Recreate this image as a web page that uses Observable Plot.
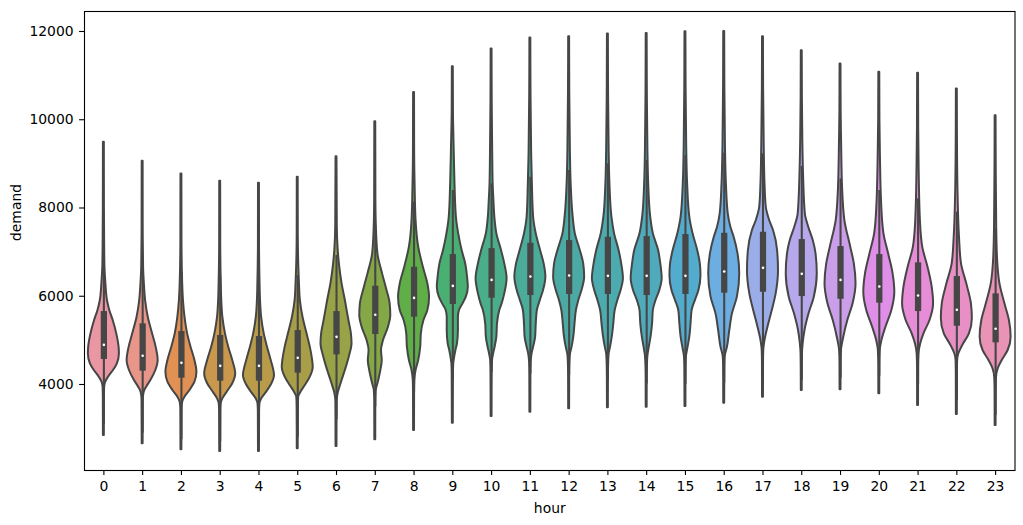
<!DOCTYPE html>
<html>
<head>
<meta charset="utf-8">
<script src="https://cdn.jsdelivr.net/npm/d3@7"></script>
<script src="https://cdn.jsdelivr.net/npm/@observablehq/plot@0.6"></script>
<style>
  html, body { margin: 0; padding: 0; background: #fff; }
  #chart { width: 1023px; height: 525px; }
</style>
</head>
<body>
<div id="chart"></div>
<script>
// ---- data ----
const hours = [0,1,2,3,4,5,6,7,8,9,10,11,12,13,14,15,16,17,18,19,20,21,22,23];
const q1     = [4566,4302,4143,4075,4075,4257,4672,5133,5525,5812,5955,6016,6039,6039,6016,6039,6069,6091,5993,5932,5842,5653,5321,4944];
const median = [4899,4650,4491,4423,4423,4604,5080,5579,5963,6235,6371,6446,6469,6462,6462,6462,6560,6643,6507,6371,6220,6016,5692,5262];
const q3     = [5653,5375,5200,5110,5087,5223,5653,6227,6657,6944,7080,7201,7262,7336,7352,7398,7427,7450,7284,7126,6944,6756,6446,6054];
const whiskerLo = [3100,2900,2750,2700,2700,2808,3200,3492,3827,4114,4268,4238,4205,4094,4012,4000,4032,4053,4100,4141,4189,3999,3634,3300];
const whiskerHi = [7034,6735,6545,6433,6357,6470,6923,7604,8132,8396,8547,8697,8849,9000,9076,9186,9240,9227,8940,8660,8396,8208,7906,7527];
// density profile per hour: [demand, relative half-width]
const profiles = [
  [[9488,0.03],[8000,0.035],[7110,0.05],[6658,0.07],[6281,0.13],[5903,0.23],[5677,0.38],[5450,0.6],[5148,0.83],[4846,0.98],[4690,1.0],[4469,0.87],[4317,0.62],[4166,0.3],[4053,0.12],[3940,0.05],[3700,0.035],[2845,0.03]],
  [[9058,0.03],[7600,0.035],[6658,0.06],[6281,0.11],[5903,0.19],[5525,0.36],[5148,0.64],[4846,0.87],[4544,1.0],[4317,0.85],[4091,0.53],[3940,0.26],[3826,0.1],[3650,0.04],[2657,0.03]],
  [[8772,0.03],[7300,0.035],[6281,0.08],[5903,0.13],[5525,0.23],[5148,0.4],[4846,0.62],[4544,0.87],[4279,1.0],[4053,0.87],[3864,0.55],[3713,0.23],[3599,0.08],[3450,0.04],[2521,0.03]],
  [[8605,0.03],[7200,0.035],[6281,0.07],[5903,0.1],[5525,0.17],[5148,0.34],[4846,0.55],[4544,0.81],[4242,1.0],[4016,0.81],[3826,0.45],[3675,0.17],[3562,0.06],[3400,0.04],[2482,0.03]],
  [[8560,0.03],[7200,0.035],[6281,0.07],[5903,0.1],[5525,0.17],[5148,0.34],[4846,0.55],[4544,0.79],[4200,1.0],[4000,0.81],[3815,0.47],[3670,0.17],[3555,0.06],[3400,0.04],[2482,0.03]],
  [[8696,0.03],[7400,0.035],[6658,0.07],[6281,0.11],[5903,0.17],[5525,0.34],[5148,0.6],[4846,0.81],[4544,0.96],[4393,1.0],[4166,0.81],[3977,0.49],[3826,0.21],[3713,0.06],[3500,0.04],[2544,0.03]],
  [[9164,0.03],[7600,0.05],[7036,0.11],[6658,0.21],[6281,0.36],[5903,0.57],[5450,0.8],[5148,0.96],[4922,1.0],[4619,0.82],[4317,0.57],[4016,0.29],[3789,0.1],[3600,0.04],[2596,0.03]],
  [[9957,0.03],[8200,0.04],[7563,0.07],[6960,0.17],[6507,0.47],[6204,0.7],[5828,0.96],[5563,1.0],[5298,0.85],[4997,0.53],[4770,0.4],[4544,0.45],[4300,0.35],[4015,0.17],[3864,0.06],[3600,0.035],[2747,0.03]],
  [[10620,0.03],[9200,0.04],[8478,0.07],[7715,0.13],[7110,0.3],[6657,0.6],[6280,0.89],[5978,1.0],[5676,0.89],[5450,0.64],[5148,0.47],[4845,0.43],[4544,0.3],[4317,0.13],[4091,0.05],[3800,0.035],[2958,0.03]],
  [[11203,0.03],[10200,0.04],[9302,0.09],[8547,0.14],[7791,0.23],[7414,0.38],[7036,0.6],[6734,0.83],[6394,0.96],[6205,1.0],[5978,0.87],[5828,0.66],[5677,0.43],[5525,0.36],[5224,0.36],[4922,0.3],[4770,0.2],[4619,0.12],[4469,0.06],[4250,0.04],[3124,0.03]],
  [[11603,0.03],[10400,0.04],[9302,0.07],[8547,0.1],[8169,0.15],[7791,0.21],[7414,0.34],[7036,0.64],[6734,0.85],[6394,1.0],[6054,0.85],[5828,0.68],[5677,0.53],[5375,0.38],[5072,0.34],[4850,0.23],[4690,0.13],[4544,0.06],[4300,0.04],[3275,0.03]],
  [[11852,0.03],[10700,0.04],[9302,0.08],[8547,0.13],[7791,0.21],[7414,0.38],[7036,0.66],[6734,0.89],[6432,1.0],[6130,0.85],[5900,0.64],[5677,0.45],[5375,0.38],[5072,0.34],[4846,0.21],[4694,0.11],[4500,0.05],[4200,0.035],[3373,0.03]],
  [[11882,0.03],[10700,0.04],[9302,0.08],[8547,0.13],[7791,0.26],[7414,0.4],[7036,0.72],[6734,0.94],[6432,1.0],[6130,0.83],[5900,0.62],[5677,0.47],[5375,0.38],[5072,0.3],[4846,0.19],[4694,0.09],[4500,0.05],[4200,0.035],[3450,0.03]],
  [[11943,0.03],[10800,0.04],[9302,0.08],[8547,0.13],[7791,0.26],[7414,0.43],[7036,0.72],[6734,0.89],[6394,1.0],[6130,0.85],[5900,0.64],[5677,0.47],[5375,0.38],[5072,0.28],[4846,0.17],[4694,0.08],[4500,0.05],[4200,0.035],[3472,0.03]],
  [[11957,0.03],[10800,0.04],[9302,0.08],[8547,0.13],[7791,0.26],[7414,0.43],[7036,0.77],[6734,0.91],[6394,1.0],[6130,0.85],[5900,0.6],[5677,0.43],[5375,0.38],[5072,0.28],[4846,0.17],[4650,0.08],[4450,0.05],[4200,0.035],[3486,0.03]],
  [[11995,0.03],[10900,0.04],[9400,0.08],[8547,0.14],[7791,0.28],[7414,0.49],[7036,0.79],[6734,0.96],[6470,1.0],[6130,0.87],[5900,0.64],[5677,0.43],[5375,0.36],[5072,0.28],[4846,0.17],[4619,0.06],[4400,0.04],[3502,0.03]],
  [[12002,0.03],[10900,0.04],[9400,0.08],[8547,0.14],[7868,0.26],[7565,0.43],[7338,0.64],[6961,0.89],[6507,1.0],[5979,0.85],[5601,0.53],[5224,0.36],[4846,0.21],[4619,0.06],[4400,0.04],[3577,0.03]],
  [[11882,0.03],[10700,0.04],[9400,0.08],[8549,0.13],[8018,0.21],[7716,0.43],[7490,0.68],[7036,0.94],[6583,1.0],[6054,0.85],[5677,0.6],[5298,0.32],[4997,0.13],[4770,0.05],[4500,0.035],[3712,0.03]],
  [[11565,0.03],[10500,0.04],[9500,0.07],[8697,0.12],[7868,0.23],[7565,0.45],[7263,0.74],[6961,0.92],[6507,1.0],[5979,0.81],[5601,0.47],[5224,0.21],[4922,0.09],[4696,0.045],[4400,0.035],[3864,0.03]],
  [[11263,0.03],[10200,0.04],[9454,0.07],[8471,0.13],[7716,0.28],[7112,0.66],[6734,0.89],[6281,1.0],[5828,0.81],[5450,0.47],[5072,0.21],[4770,0.06],[4500,0.035],[3880,0.03]],
  [[11074,0.03],[10000,0.04],[9227,0.07],[8095,0.15],[7414,0.3],[6961,0.6],[6507,0.89],[6092,1.0],[5677,0.81],[5298,0.43],[4997,0.17],[4770,0.06],[4450,0.035],[3789,0.03]],
  [[11051,0.03],[9800,0.04],[8849,0.07],[7716,0.15],[7112,0.3],[6658,0.64],[6205,0.91],[5828,1.0],[5450,0.77],[5148,0.38],[4922,0.17],[4696,0.06],[4400,0.035],[3524,0.03]],
  [[10697,0.03],[9500,0.04],[8471,0.07],[7338,0.17],[6734,0.3],[6281,0.64],[5828,0.94],[5488,1.0],[5148,0.81],[4884,0.38],[4696,0.13],[4544,0.05],[4250,0.035],[3320,0.03]],
  [[10093,0.03],[8900,0.04],[7565,0.07],[6810,0.13],[6281,0.28],[5828,0.6],[5450,0.89],[5072,1.0],[4770,0.81],[4544,0.43],[4356,0.17],[4165,0.06],[3900,0.035],[3071,0.03]]
];
const yTicks = [4000, 6000, 8000, 10000, 12000];

// ---- seaborn-like husl palette (h=.01, s=.9, l=.7), desaturated 0.75 ----
function huslToRgb(H, S, L) {
  const m = [[3.2406,-1.5372,-0.4986],[-0.9689,1.8758,0.0415],[0.0557,-0.2040,1.0570]];
  const refU = 0.19784, refV = 0.46834, labE = 0.008856, labK = 903.3;
  const hrad = H * Math.PI / 180, sinH = Math.sin(hrad), cosH = Math.cos(hrad);
  const sub1 = Math.pow(L + 16, 3) / 1560896, sub2 = sub1 > labE ? sub1 : L / labK;
  let maxC = Infinity;
  for (const [m1, m2, m3] of m) {
    const top = (0.99915*m1 + 1.05122*m2 + 1.14460*m3) * sub2;
    const rb = 0.86330*m3 - 0.17266*m2, lb = 0.12949*m3 - 0.38848*m1;
    const bottom = (rb*sinH + lb*cosH) * sub2;
    for (const t of [0, 1]) {
      const C = L * (top - 1.05122*t) / (bottom + 0.17266*sinH*t);
      if (C > 0 && C < maxC) maxC = C;
    }
  }
  const C = maxC / 100 * S;
  const U = Math.cos(hrad) * C, V = Math.sin(hrad) * C;
  const t = (L + 16) / 116;
  const varY = t*t*t > labE ? t*t*t : (116*t - 16) / labK;
  const varU = U / (13*L) + refU, varV = V / (13*L) + refV;
  const Y = varY;
  const X = -(9*Y*varU) / ((varU - 4)*varV - varU*varV);
  const Z = (9*Y - 15*varV*Y - varV*X) / (3*varV);
  return m.map(([a,b,c]) => {
    const v = a*X + b*Y + c*Z;
    const s = v <= 0.0031308 ? 12.92*v : 1.055*Math.pow(v, 1/2.4) - 0.055;
    return Math.min(1, Math.max(0, s));
  });
}
const palette = hours.map((h, i) => {
  const hue = ((i / hours.length + 0.01) % 1) * 359;
  const [r, g, b] = huslToRgb(hue, 0.9 * 99, 0.7 * 99);
  const c = d3.hsl(d3.rgb(r*255, g*255, b*255));
  c.s *= 0.75;
  return c.formatHex();
});
const lum = d3.min(palette, c => d3.hsl(c).l) * 0.6;
const gray = d3.rgb(lum*255, lum*255, lum*255).formatHex();

// ---- tables for the marks ----
const violinRows = hours.flatMap((h, i) => profiles[i].map(([demand, w]) => ({hour: h, demand, w})));
const stats = hours.map((h, i) => ({hour: h, q1: q1[i], med: median[i], q3: q3[i], lo: whiskerLo[i], hi: whiskerHi[i]}));

const halfWidth = 0.4;
const chart = Plot.plot({
  width: 1023,
  height: 525,
  marginLeft: 84,
  marginRight: 8.5,
  marginTop: 11,
  marginBottom: 55,
  style: {fontFamily: "'DejaVu Sans', sans-serif", fontSize: "13.9px", background: "#fff", color: "#000", overflow: "visible"},
  x: {type: "linear", domain: [-0.5, 23.5], axis: null},
  y: {domain: [2051, 12453], axis: null},
  color: {type: "ordinal", domain: hours, range: palette},
  marks: [
    Plot.areaX(violinRows, {
      y: "demand",
      x1: d => d.hour - d.w * halfWidth,
      x2: d => d.hour + d.w * halfWidth,
      z: "hour",
      fill: "hour",
      stroke: gray,
      strokeWidth: 2,
      strokeLinejoin: "round",
      curve: "monotone-y"
    }),
    Plot.ruleX(stats, {x: "hour", y1: "lo", y2: "hi", stroke: gray, strokeWidth: 2.08}),
    Plot.ruleX(stats, {x: "hour", y1: "q1", y2: "q3", stroke: gray, strokeWidth: 6.25}),
    Plot.dot(stats, {x: "hour", y: "med", r: 1.3, fill: "white"}),
    Plot.frame({stroke: "#000", strokeWidth: 1.1}),
    Plot.axisX({ticks: hours, tickFormat: d => String(d), tickSize: 4.9, tickPadding: 5.5, label: null, strokeWidth: 1.1}),
    Plot.axisY({ticks: yTicks, tickFormat: d => String(d), tickSize: 4.9, tickPadding: 6, label: null, strokeWidth: 1.1}),
    Plot.text(["hour"], {frameAnchor: "bottom", dy: 38, lineAnchor: "middle", text: d => d, fill: "#000"}),
    Plot.text(["demand"], {frameAnchor: "left", dx: -68, rotate: -90, lineAnchor: "middle", text: d => d, fill: "#000"})
  ]
});
document.getElementById("chart").appendChild(chart);
</script>
</body>
</html>
